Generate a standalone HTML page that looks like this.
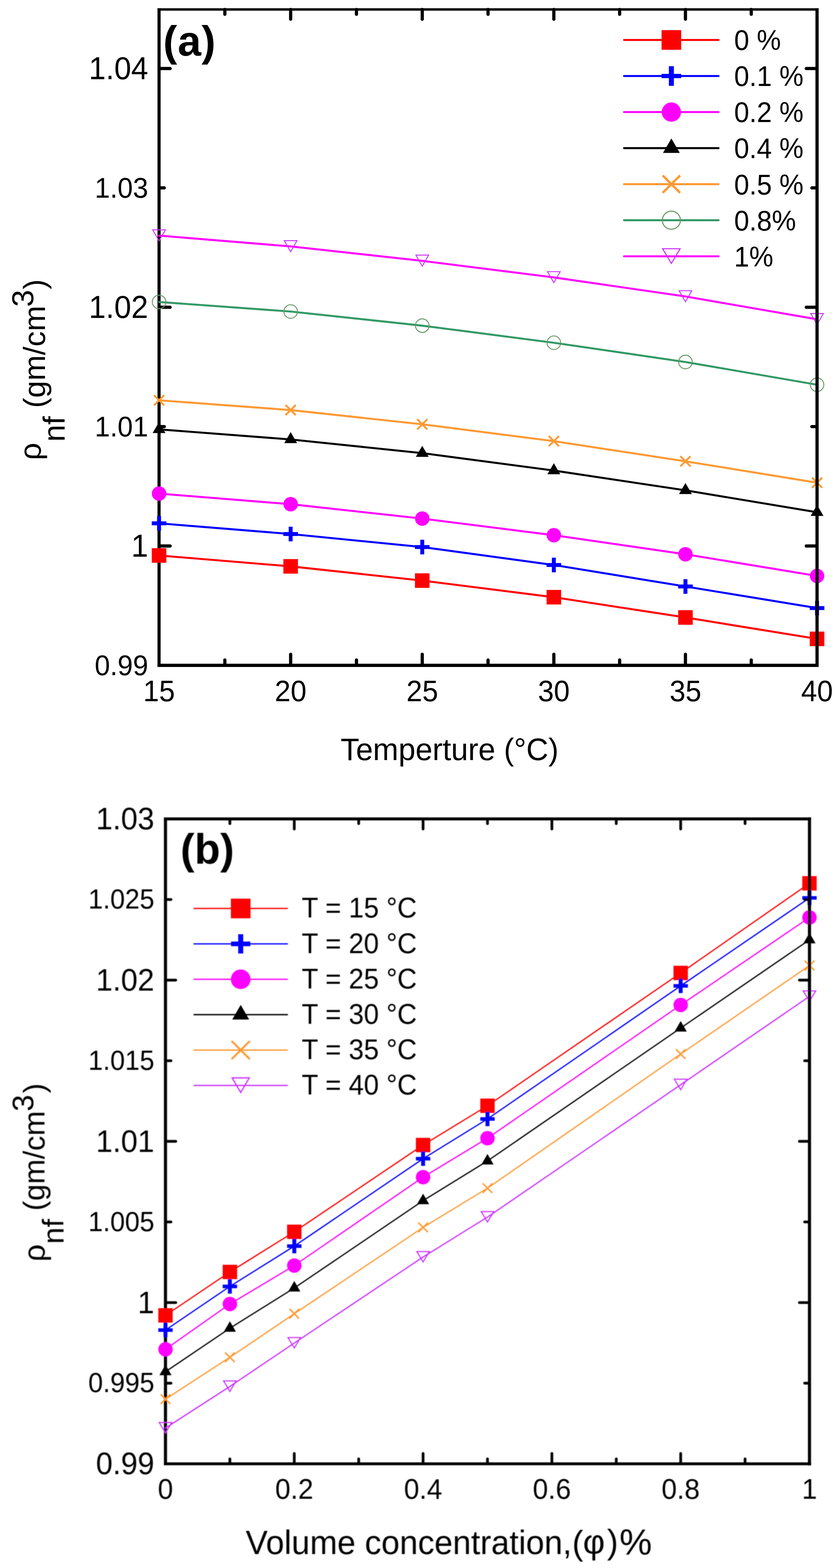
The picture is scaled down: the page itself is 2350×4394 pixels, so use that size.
<!DOCTYPE html><html><head><meta charset="utf-8"><title>Density of nanofluid vs temperature and concentration</title>
<style>html,body{margin:0;padding:0;background:#fff;}svg{display:block;}text{font-family:"Liberation Sans", Arial, "DejaVu Sans", sans-serif;fill:#000;}</style></head><body>
<svg width="2350" height="4394" viewBox="0 0 2350 4394">
<rect x="0" y="0" width="2350" height="4394" fill="#fff"/>
<rect x="441.15" y="23" width="8.7" height="1846.05" fill="#000"/>
<rect x="441.15" y="1859.95" width="1851.85" height="9.1" fill="#000"/>
<line x1="629.8" y1="1864.5" x2="629.8" y2="1849.5" stroke="#000" stroke-width="9" stroke-linecap="round"/>
<line x1="814.1" y1="1864.5" x2="814.1" y2="1833.5" stroke="#000" stroke-width="9" stroke-linecap="round"/>
<line x1="998.4" y1="1864.5" x2="998.4" y2="1849.5" stroke="#000" stroke-width="9" stroke-linecap="round"/>
<line x1="1182.7" y1="1864.5" x2="1182.7" y2="1833.5" stroke="#000" stroke-width="9" stroke-linecap="round"/>
<line x1="1367" y1="1864.5" x2="1367" y2="1849.5" stroke="#000" stroke-width="9" stroke-linecap="round"/>
<line x1="1551.3" y1="1864.5" x2="1551.3" y2="1833.5" stroke="#000" stroke-width="9" stroke-linecap="round"/>
<line x1="1735.6" y1="1864.5" x2="1735.6" y2="1849.5" stroke="#000" stroke-width="9" stroke-linecap="round"/>
<line x1="1919.9" y1="1864.5" x2="1919.9" y2="1833.5" stroke="#000" stroke-width="9" stroke-linecap="round"/>
<line x1="2104.2" y1="1864.5" x2="2104.2" y2="1849.5" stroke="#000" stroke-width="9" stroke-linecap="round"/>
<line x1="445.5" y1="192.1" x2="476.5" y2="192.1" stroke="#000" stroke-width="9" stroke-linecap="round"/>
<line x1="445.5" y1="526.58" x2="460.2" y2="526.58" stroke="#000" stroke-width="9" stroke-linecap="round"/>
<line x1="445.5" y1="861.06" x2="476.5" y2="861.06" stroke="#000" stroke-width="9" stroke-linecap="round"/>
<line x1="445.5" y1="1195.54" x2="460.2" y2="1195.54" stroke="#000" stroke-width="9" stroke-linecap="round"/>
<line x1="445.5" y1="1530.02" x2="476.5" y2="1530.02" stroke="#000" stroke-width="9" stroke-linecap="round"/>
<polyline points="445.5,1556.6 814.1,1587.1 1182.7,1627 1551.3,1673.5 1919.9,1730.3 2288.5,1790.3" fill="none" stroke="#FF0000" stroke-width="5.6" stroke-linejoin="round" stroke-linecap="round"/>
<polyline points="445.5,1466.5 814.1,1496.5 1182.7,1533 1551.3,1583.3 1919.9,1643.5 2288.5,1704" fill="none" stroke="#0000FF" stroke-width="5.6" stroke-linejoin="round" stroke-linecap="round"/>
<polyline points="445.5,1383.2 814.1,1412.9 1182.7,1453.2 1551.3,1499.8 1919.9,1553.2 2288.5,1614" fill="none" stroke="#FF00FF" stroke-width="5.6" stroke-linejoin="round" stroke-linecap="round"/>
<polyline points="445.5,1203.2 814.1,1231.5 1182.7,1269.8 1551.3,1318.6 1919.9,1374.1 2288.5,1435.5" fill="none" stroke="#000000" stroke-width="5.6" stroke-linejoin="round" stroke-linecap="round"/>
<polyline points="445.5,1121.7 814.1,1149.1 1182.7,1189 1551.3,1236.2 1919.9,1292.7 2288.5,1352.7" fill="none" stroke="#FF9933" stroke-width="5.6" stroke-linejoin="round" stroke-linecap="round"/>
<polyline points="445.5,846.2 814.1,873 1182.7,912.6 1551.3,960.5 1919.9,1014.4 2288.5,1078.1" fill="none" stroke="#339966" stroke-width="5.6" stroke-linejoin="round" stroke-linecap="round"/>
<polyline points="445.5,660.2 814.1,690.5 1182.7,731 1551.3,777.4 1919.9,830.8 2288.5,894.7" fill="none" stroke="#FF00FF" stroke-width="5.6" stroke-linejoin="round" stroke-linecap="round"/>
<rect x="425.1" y="1536.2" width="40.8" height="40.8" fill="#FF0000"/>
<rect x="425" y="1461" width="41" height="11" fill="#0000FF"/>
<rect x="440" y="1446" width="11" height="41" fill="#0000FF"/>
<circle cx="445.5" cy="1383.2" r="20.3" fill="#FF00FF"/>
<polygon points="445.5,1182.53 427.5,1213.53 463.5,1213.53" fill="#000000"/>
<path d="M431.2 1107.4L459.8 1136M431.2 1136L459.8 1107.4" stroke="#FF9933" stroke-width="5.2" stroke-linecap="butt" fill="none"/>
<circle cx="445.5" cy="846.2" r="19" fill="none" stroke="#669966" stroke-width="2.6"/>
<polygon points="427.71,644.1 463.29,644.1 445.5,675" fill="none" stroke="#CC33FF" stroke-width="2.6" stroke-linejoin="miter" stroke-miterlimit="10"/>
<rect x="793.7" y="1566.7" width="40.8" height="40.8" fill="#FF0000"/>
<rect x="793.6" y="1491" width="41" height="11" fill="#0000FF"/>
<rect x="808.6" y="1476" width="11" height="41" fill="#0000FF"/>
<circle cx="814.1" cy="1412.9" r="20.3" fill="#FF00FF"/>
<polygon points="814.1,1210.83 796.1,1241.83 832.1,1241.83" fill="#000000"/>
<path d="M799.8 1134.8L828.4 1163.4M799.8 1163.4L828.4 1134.8" stroke="#FF9933" stroke-width="5.2" stroke-linecap="butt" fill="none"/>
<circle cx="814.1" cy="873" r="19" fill="none" stroke="#669966" stroke-width="2.6"/>
<polygon points="796.31,674.4 831.89,674.4 814.1,705.3" fill="none" stroke="#CC33FF" stroke-width="2.6" stroke-linejoin="miter" stroke-miterlimit="10"/>
<rect x="1162.3" y="1606.6" width="40.8" height="40.8" fill="#FF0000"/>
<rect x="1162.2" y="1527.5" width="41" height="11" fill="#0000FF"/>
<rect x="1177.2" y="1512.5" width="11" height="41" fill="#0000FF"/>
<circle cx="1182.7" cy="1453.2" r="20.3" fill="#FF00FF"/>
<polygon points="1182.7,1249.13 1164.7,1280.13 1200.7,1280.13" fill="#000000"/>
<path d="M1168.4 1174.7L1197 1203.3M1168.4 1203.3L1197 1174.7" stroke="#FF9933" stroke-width="5.2" stroke-linecap="butt" fill="none"/>
<circle cx="1182.7" cy="912.6" r="19" fill="none" stroke="#669966" stroke-width="2.6"/>
<polygon points="1164.91,714.9 1200.49,714.9 1182.7,745.8" fill="none" stroke="#CC33FF" stroke-width="2.6" stroke-linejoin="miter" stroke-miterlimit="10"/>
<rect x="1530.9" y="1653.1" width="40.8" height="40.8" fill="#FF0000"/>
<rect x="1530.8" y="1577.8" width="41" height="11" fill="#0000FF"/>
<rect x="1545.8" y="1562.8" width="11" height="41" fill="#0000FF"/>
<circle cx="1551.3" cy="1499.8" r="20.3" fill="#FF00FF"/>
<polygon points="1551.3,1297.93 1533.3,1328.93 1569.3,1328.93" fill="#000000"/>
<path d="M1537 1221.9L1565.6 1250.5M1537 1250.5L1565.6 1221.9" stroke="#FF9933" stroke-width="5.2" stroke-linecap="butt" fill="none"/>
<circle cx="1551.3" cy="960.5" r="19" fill="none" stroke="#669966" stroke-width="2.6"/>
<polygon points="1533.51,761.3 1569.09,761.3 1551.3,792.2" fill="none" stroke="#CC33FF" stroke-width="2.6" stroke-linejoin="miter" stroke-miterlimit="10"/>
<rect x="1899.5" y="1709.9" width="40.8" height="40.8" fill="#FF0000"/>
<rect x="1899.4" y="1638" width="41" height="11" fill="#0000FF"/>
<rect x="1914.4" y="1623" width="11" height="41" fill="#0000FF"/>
<circle cx="1919.9" cy="1553.2" r="20.3" fill="#FF00FF"/>
<polygon points="1919.9,1353.43 1901.9,1384.43 1937.9,1384.43" fill="#000000"/>
<path d="M1905.6 1278.4L1934.2 1307M1905.6 1307L1934.2 1278.4" stroke="#FF9933" stroke-width="5.2" stroke-linecap="butt" fill="none"/>
<circle cx="1919.9" cy="1014.4" r="19" fill="none" stroke="#669966" stroke-width="2.6"/>
<polygon points="1902.11,814.7 1937.69,814.7 1919.9,845.6" fill="none" stroke="#CC33FF" stroke-width="2.6" stroke-linejoin="miter" stroke-miterlimit="10"/>
<rect x="2268.1" y="1769.9" width="40.8" height="40.8" fill="#FF0000"/>
<rect x="2268" y="1698.5" width="41" height="11" fill="#0000FF"/>
<rect x="2283" y="1683.5" width="11" height="41" fill="#0000FF"/>
<circle cx="2288.5" cy="1614" r="20.3" fill="#FF00FF"/>
<polygon points="2288.5,1414.83 2270.5,1445.83 2306.5,1445.83" fill="#000000"/>
<path d="M2274.2 1338.4L2302.8 1367M2274.2 1367L2302.8 1338.4" stroke="#FF9933" stroke-width="5.2" stroke-linecap="butt" fill="none"/>
<circle cx="2288.5" cy="1078.1" r="19" fill="none" stroke="#669966" stroke-width="2.6"/>
<polygon points="2270.71,878.6 2306.29,878.6 2288.5,909.5" fill="none" stroke="#CC33FF" stroke-width="2.6" stroke-linejoin="miter" stroke-miterlimit="10"/>
<rect x="2284.05" y="23.15" width="8.9" height="1845.85" fill="#000"/>
<rect x="441.1" y="23.15" width="1851.85" height="6.7" fill="#000"/>
<line x1="629.8" y1="26.5" x2="629.8" y2="40.1" stroke="#000" stroke-width="9" stroke-linecap="round"/>
<line x1="814.1" y1="26.5" x2="814.1" y2="53.9" stroke="#000" stroke-width="9" stroke-linecap="round"/>
<line x1="998.4" y1="26.5" x2="998.4" y2="40.1" stroke="#000" stroke-width="9" stroke-linecap="round"/>
<line x1="1182.7" y1="26.5" x2="1182.7" y2="53.9" stroke="#000" stroke-width="9" stroke-linecap="round"/>
<line x1="1367" y1="26.5" x2="1367" y2="40.1" stroke="#000" stroke-width="9" stroke-linecap="round"/>
<line x1="1551.3" y1="26.5" x2="1551.3" y2="53.9" stroke="#000" stroke-width="9" stroke-linecap="round"/>
<line x1="1735.6" y1="26.5" x2="1735.6" y2="40.1" stroke="#000" stroke-width="9" stroke-linecap="round"/>
<line x1="1919.9" y1="26.5" x2="1919.9" y2="53.9" stroke="#000" stroke-width="9" stroke-linecap="round"/>
<line x1="2104.2" y1="26.5" x2="2104.2" y2="40.1" stroke="#000" stroke-width="9" stroke-linecap="round"/>
<line x1="2288.5" y1="192.1" x2="2258.3" y2="192.1" stroke="#000" stroke-width="9" stroke-linecap="round"/>
<line x1="2288.5" y1="526.58" x2="2274" y2="526.58" stroke="#000" stroke-width="9" stroke-linecap="round"/>
<line x1="2288.5" y1="861.06" x2="2258.3" y2="861.06" stroke="#000" stroke-width="9" stroke-linecap="round"/>
<line x1="2288.5" y1="1195.54" x2="2274" y2="1195.54" stroke="#000" stroke-width="9" stroke-linecap="round"/>
<line x1="2288.5" y1="1530.02" x2="2258.3" y2="1530.02" stroke="#000" stroke-width="9" stroke-linecap="round"/>
<text transform="translate(415 222.4) scale(1 1.04)" font-size="85.4" text-anchor="end" font-weight="normal" >1.04</text>
<text transform="translate(415 553.88) scale(1 1.04)" font-size="77" text-anchor="end" font-weight="normal" >1.03</text>
<text transform="translate(415 891.36) scale(1 1.04)" font-size="85.4" text-anchor="end" font-weight="normal" >1.02</text>
<text transform="translate(415 1222.84) scale(1 1.04)" font-size="77" text-anchor="end" font-weight="normal" >1.01</text>
<text transform="translate(415 1560.32) scale(1 1.04)" font-size="85.4" text-anchor="end" font-weight="normal" >1</text>
<text transform="translate(415 1891.8) scale(1 1.04)" font-size="77" text-anchor="end" font-weight="normal" >0.99</text>
<text transform="translate(445.5 1965) scale(1 1.04)" font-size="80" text-anchor="middle" font-weight="normal" >15</text>
<text transform="translate(814.1 1965) scale(1 1.04)" font-size="80" text-anchor="middle" font-weight="normal" >20</text>
<text transform="translate(1182.7 1965) scale(1 1.04)" font-size="80" text-anchor="middle" font-weight="normal" >25</text>
<text transform="translate(1551.3 1965) scale(1 1.04)" font-size="80" text-anchor="middle" font-weight="normal" >30</text>
<text transform="translate(1919.9 1965) scale(1 1.04)" font-size="80" text-anchor="middle" font-weight="normal" >35</text>
<text transform="translate(2288.5 1965) scale(1 1.04)" font-size="80" text-anchor="middle" font-weight="normal" >40</text>
<text transform="translate(954.1 2129.8) scale(1 1.02)" font-size="85.7" text-anchor="start" font-weight="normal" >Temperture (°C)</text>
<text transform="translate(114 1289.5) rotate(-90) scale(1 1)" font-size="86" text-anchor="start" >ρ</text>
<text transform="translate(181 1238) rotate(-90) scale(1 1)" font-size="86" text-anchor="start" >nf</text>
<text transform="translate(126 1143.3) rotate(-90) scale(1 1)" font-size="86" text-anchor="start" >(gm/cm</text>
<text transform="translate(92.5 860) rotate(-90) scale(1 1)" font-size="86" text-anchor="start" >3</text>
<text transform="translate(126 811) rotate(-90) scale(1 1)" font-size="86" text-anchor="start" >)</text>
<text transform="translate(457.1 156.4) scale(1 1)" font-size="118" text-anchor="start" font-weight="bold" letter-spacing="1.3">(a)</text>
<line x1="1748" y1="112" x2="2012.5" y2="112" stroke="#FF0000" stroke-width="5.6" stroke-linecap="round"/>
<rect x="1853" y="84.5" width="55" height="55" fill="#FF0000"/>
<text transform="translate(2056.3 140.4) scale(1 1.04)" font-size="76" text-anchor="start" font-weight="normal" >0 %</text>
<line x1="1748" y1="213.03" x2="2012.5" y2="213.03" stroke="#0000FF" stroke-width="5.6" stroke-linecap="round"/>
<rect x="1853" y="207.03" width="55" height="12" fill="#0000FF"/>
<rect x="1873.5" y="185.53" width="14" height="55" fill="#0000FF"/>
<text transform="translate(2056.3 241.43) scale(1 1.04)" font-size="76" text-anchor="start" font-weight="normal" >0.1 %</text>
<line x1="1748" y1="314.06" x2="2012.5" y2="314.06" stroke="#FF00FF" stroke-width="5.6" stroke-linecap="round"/>
<circle cx="1880.5" cy="314.06" r="27" fill="#FF00FF"/>
<text transform="translate(2056.3 342.46) scale(1 1.04)" font-size="76" text-anchor="start" font-weight="normal" >0.2 %</text>
<line x1="1748" y1="415.09" x2="2012.5" y2="415.09" stroke="#000000" stroke-width="5.6" stroke-linecap="round"/>
<polygon points="1880.5,388.02 1857,428.62 1904,428.62" fill="#000000"/>
<text transform="translate(2056.3 443.49) scale(1 1.04)" font-size="76" text-anchor="start" font-weight="normal" >0.4 %</text>
<line x1="1748" y1="516.12" x2="2012.5" y2="516.12" stroke="#FF9933" stroke-width="5.6" stroke-linecap="round"/>
<path d="M1856.2 491.82L1904.8 540.42M1856.2 540.42L1904.8 491.82" stroke="#FF9933" stroke-width="6.5" stroke-linecap="butt" fill="none"/>
<text transform="translate(2056.3 544.52) scale(1 1.04)" font-size="76" text-anchor="start" font-weight="normal" >0.5 %</text>
<line x1="1748" y1="617.15" x2="2012.5" y2="617.15" stroke="#339966" stroke-width="5.6" stroke-linecap="round"/>
<circle cx="1880.5" cy="617.15" r="25.3" fill="none" stroke="#669966" stroke-width="3"/>
<text transform="translate(2056.3 645.55) scale(1 1.04)" font-size="76" text-anchor="start" font-weight="normal" >0.8%</text>
<line x1="1748" y1="718.18" x2="2012.5" y2="718.18" stroke="#FF00FF" stroke-width="5.6" stroke-linecap="round"/>
<polygon points="1855.85,696.88 1905.15,696.88 1880.5,737.98" fill="none" stroke="#CC33FF" stroke-width="3" stroke-linejoin="miter" stroke-miterlimit="10"/>
<text transform="translate(2056.3 746.58) scale(1 1.04)" font-size="76" text-anchor="start" font-weight="normal" >1%</text>
<defs><filter id="bb" x="0" y="2150" width="2350" height="2244" filterUnits="userSpaceOnUse"><feGaussianBlur stdDeviation="0.9"/></filter></defs><g filter="url(#bb)">
<rect x="459.15" y="2291.3" width="8.7" height="1814.75" fill="#000"/>
<rect x="459.15" y="4097.95" width="1812.65" height="8.1" fill="#000"/>
<line x1="643.88" y1="4102" x2="643.88" y2="4088.2" stroke="#000" stroke-width="7.6" stroke-linecap="round"/>
<line x1="824.26" y1="4102" x2="824.26" y2="4073" stroke="#000" stroke-width="7.6" stroke-linecap="round"/>
<line x1="1004.64" y1="4102" x2="1004.64" y2="4088.2" stroke="#000" stroke-width="7.6" stroke-linecap="round"/>
<line x1="1185.02" y1="4102" x2="1185.02" y2="4073" stroke="#000" stroke-width="7.6" stroke-linecap="round"/>
<line x1="1365.4" y1="4102" x2="1365.4" y2="4088.2" stroke="#000" stroke-width="7.6" stroke-linecap="round"/>
<line x1="1545.78" y1="4102" x2="1545.78" y2="4073" stroke="#000" stroke-width="7.6" stroke-linecap="round"/>
<line x1="1726.16" y1="4102" x2="1726.16" y2="4088.2" stroke="#000" stroke-width="7.6" stroke-linecap="round"/>
<line x1="1906.54" y1="4102" x2="1906.54" y2="4073" stroke="#000" stroke-width="7.6" stroke-linecap="round"/>
<line x1="2086.92" y1="4102" x2="2086.92" y2="4088.2" stroke="#000" stroke-width="7.6" stroke-linecap="round"/>
<line x1="463.5" y1="2520.7" x2="478.8" y2="2520.7" stroke="#000" stroke-width="7.6" stroke-linecap="round"/>
<line x1="463.5" y1="2746.6" x2="492.2" y2="2746.6" stroke="#000" stroke-width="7.6" stroke-linecap="round"/>
<line x1="463.5" y1="2972.5" x2="478.8" y2="2972.5" stroke="#000" stroke-width="7.6" stroke-linecap="round"/>
<line x1="463.5" y1="3198.4" x2="492.2" y2="3198.4" stroke="#000" stroke-width="7.6" stroke-linecap="round"/>
<line x1="463.5" y1="3424.3" x2="478.8" y2="3424.3" stroke="#000" stroke-width="7.6" stroke-linecap="round"/>
<line x1="463.5" y1="3650.2" x2="492.2" y2="3650.2" stroke="#000" stroke-width="7.6" stroke-linecap="round"/>
<line x1="463.5" y1="3876.1" x2="478.8" y2="3876.1" stroke="#000" stroke-width="7.6" stroke-linecap="round"/>
<polyline points="463.5,3686.1 643.88,3564.4 824.26,3451.88 1185.02,3208.75 1365.4,3098.66 1906.54,2726.53 2267.3,2475.29" fill="none" stroke="#FF0000" stroke-width="3.4" stroke-linejoin="round" stroke-linecap="round"/>
<polyline points="463.5,3727.3 643.88,3604.92 824.26,3492 1185.02,3246.97 1365.4,3135.67 1906.54,2762.73 2267.3,2516.22" fill="none" stroke="#0000FF" stroke-width="3.4" stroke-linejoin="round" stroke-linecap="round"/>
<polyline points="463.5,3781.2 643.88,3654.23 824.26,3546.44 1185.02,3298.71 1365.4,3189.57 1906.54,2816.22 2267.3,2570.92" fill="none" stroke="#FF00FF" stroke-width="3.4" stroke-linejoin="round" stroke-linecap="round"/>
<polyline points="463.5,3844.01 643.88,3722.17 824.26,3609.38 1185.02,3364.62 1365.4,3253.32 1906.54,2880.92 2267.3,2633.6" fill="none" stroke="#000000" stroke-width="3.4" stroke-linejoin="round" stroke-linecap="round"/>
<polyline points="463.5,3920.73 643.88,3803.48 824.26,3681.51 1185.02,3439.59 1365.4,3329.64 1906.54,2953.72 2267.3,2705.73" fill="none" stroke="#FF9933" stroke-width="3.4" stroke-linejoin="round" stroke-linecap="round"/>
<polyline points="463.5,4001.77 643.88,3885.2 824.26,3763.64 1185.02,3522.53 1365.4,3410.68 1906.54,3039.77 2267.3,2792.04" fill="none" stroke="#CC33FF" stroke-width="3.4" stroke-linejoin="round" stroke-linecap="round"/>
<rect x="443.35" y="3665.95" width="40.3" height="40.3" fill="#FF0000"/>
<rect x="623.73" y="3544.25" width="40.3" height="40.3" fill="#FF0000"/>
<rect x="804.11" y="3431.73" width="40.3" height="40.3" fill="#FF0000"/>
<rect x="1164.87" y="3188.6" width="40.3" height="40.3" fill="#FF0000"/>
<rect x="1345.25" y="3078.51" width="40.3" height="40.3" fill="#FF0000"/>
<rect x="1886.39" y="2706.38" width="40.3" height="40.3" fill="#FF0000"/>
<rect x="2247.15" y="2455.14" width="40.3" height="40.3" fill="#FF0000"/>
<rect x="443.35" y="3722.3" width="40.3" height="10" fill="#0000FF"/>
<rect x="458" y="3707.15" width="11" height="40.3" fill="#0000FF"/>
<rect x="623.73" y="3599.92" width="40.3" height="10" fill="#0000FF"/>
<rect x="638.38" y="3584.77" width="11" height="40.3" fill="#0000FF"/>
<rect x="804.11" y="3487" width="40.3" height="10" fill="#0000FF"/>
<rect x="818.76" y="3471.85" width="11" height="40.3" fill="#0000FF"/>
<rect x="1164.87" y="3241.97" width="40.3" height="10" fill="#0000FF"/>
<rect x="1179.52" y="3226.82" width="11" height="40.3" fill="#0000FF"/>
<rect x="1345.25" y="3130.67" width="40.3" height="10" fill="#0000FF"/>
<rect x="1359.9" y="3115.52" width="11" height="40.3" fill="#0000FF"/>
<rect x="1886.39" y="2757.73" width="40.3" height="10" fill="#0000FF"/>
<rect x="1901.04" y="2742.58" width="11" height="40.3" fill="#0000FF"/>
<rect x="2247.15" y="2511.22" width="40.3" height="10" fill="#0000FF"/>
<rect x="2261.8" y="2496.07" width="11" height="40.3" fill="#0000FF"/>
<circle cx="463.5" cy="3781.2" r="20.25" fill="#FF00FF"/>
<circle cx="643.88" cy="3654.23" r="20.25" fill="#FF00FF"/>
<circle cx="824.26" cy="3546.44" r="20.25" fill="#FF00FF"/>
<circle cx="1185.02" cy="3298.71" r="20.25" fill="#FF00FF"/>
<circle cx="1365.4" cy="3189.57" r="20.25" fill="#FF00FF"/>
<circle cx="1906.54" cy="2816.22" r="20.25" fill="#FF00FF"/>
<circle cx="2267.3" cy="2570.92" r="20.25" fill="#FF00FF"/>
<polygon points="463.5,3824.34 446.5,3853.84 480.5,3853.84" fill="#000000"/>
<polygon points="643.88,3702.5 626.88,3732 660.88,3732" fill="#000000"/>
<polygon points="824.26,3589.71 807.26,3619.21 841.26,3619.21" fill="#000000"/>
<polygon points="1185.02,3344.96 1168.02,3374.46 1202.02,3374.46" fill="#000000"/>
<polygon points="1365.4,3233.65 1348.4,3263.15 1382.4,3263.15" fill="#000000"/>
<polygon points="1906.54,2861.25 1889.54,2890.75 1923.54,2890.75" fill="#000000"/>
<polygon points="2267.3,2613.93 2250.3,2643.43 2284.3,2643.43" fill="#000000"/>
<path d="M450 3907.23L477 3934.23M450 3934.23L477 3907.23" stroke="#FF9933" stroke-width="4" stroke-linecap="butt" fill="none"/>
<path d="M630.38 3789.98L657.38 3816.98M630.38 3816.98L657.38 3789.98" stroke="#FF9933" stroke-width="4" stroke-linecap="butt" fill="none"/>
<path d="M810.76 3668.01L837.76 3695.01M810.76 3695.01L837.76 3668.01" stroke="#FF9933" stroke-width="4" stroke-linecap="butt" fill="none"/>
<path d="M1171.52 3426.09L1198.52 3453.09M1171.52 3453.09L1198.52 3426.09" stroke="#FF9933" stroke-width="4" stroke-linecap="butt" fill="none"/>
<path d="M1351.9 3316.14L1378.9 3343.14M1351.9 3343.14L1378.9 3316.14" stroke="#FF9933" stroke-width="4" stroke-linecap="butt" fill="none"/>
<path d="M1893.04 2940.22L1920.04 2967.22M1893.04 2967.22L1920.04 2940.22" stroke="#FF9933" stroke-width="4" stroke-linecap="butt" fill="none"/>
<path d="M2253.8 2692.23L2280.8 2719.23M2253.8 2719.23L2280.8 2692.23" stroke="#FF9933" stroke-width="4" stroke-linecap="butt" fill="none"/>
<polygon points="445.9,3986.37 481.1,3986.37 463.5,4015.67" fill="none" stroke="#CC33FF" stroke-width="3" stroke-linejoin="miter" stroke-miterlimit="10"/>
<polygon points="626.28,3869.8 661.48,3869.8 643.88,3899.1" fill="none" stroke="#CC33FF" stroke-width="3" stroke-linejoin="miter" stroke-miterlimit="10"/>
<polygon points="806.66,3748.24 841.86,3748.24 824.26,3777.54" fill="none" stroke="#CC33FF" stroke-width="3" stroke-linejoin="miter" stroke-miterlimit="10"/>
<polygon points="1167.42,3507.13 1202.62,3507.13 1185.02,3536.43" fill="none" stroke="#CC33FF" stroke-width="3" stroke-linejoin="miter" stroke-miterlimit="10"/>
<polygon points="1347.8,3395.28 1383,3395.28 1365.4,3424.58" fill="none" stroke="#CC33FF" stroke-width="3" stroke-linejoin="miter" stroke-miterlimit="10"/>
<polygon points="1888.94,3024.37 1924.14,3024.37 1906.54,3053.67" fill="none" stroke="#CC33FF" stroke-width="3" stroke-linejoin="miter" stroke-miterlimit="10"/>
<polygon points="2249.7,2776.64 2284.9,2776.64 2267.3,2805.94" fill="none" stroke="#CC33FF" stroke-width="3" stroke-linejoin="miter" stroke-miterlimit="10"/>
<rect x="2262.95" y="2290.6" width="8.7" height="1815.9" fill="#000"/>
<rect x="459.1" y="2290.6" width="1812.55" height="8.4" fill="#000"/>
<line x1="643.88" y1="2294.8" x2="643.88" y2="2307.9" stroke="#000" stroke-width="7.6" stroke-linecap="round"/>
<line x1="824.26" y1="2294.8" x2="824.26" y2="2323.1" stroke="#000" stroke-width="7.6" stroke-linecap="round"/>
<line x1="1004.64" y1="2294.8" x2="1004.64" y2="2307.9" stroke="#000" stroke-width="7.6" stroke-linecap="round"/>
<line x1="1185.02" y1="2294.8" x2="1185.02" y2="2323.1" stroke="#000" stroke-width="7.6" stroke-linecap="round"/>
<line x1="1365.4" y1="2294.8" x2="1365.4" y2="2307.9" stroke="#000" stroke-width="7.6" stroke-linecap="round"/>
<line x1="1545.78" y1="2294.8" x2="1545.78" y2="2323.1" stroke="#000" stroke-width="7.6" stroke-linecap="round"/>
<line x1="1726.16" y1="2294.8" x2="1726.16" y2="2307.9" stroke="#000" stroke-width="7.6" stroke-linecap="round"/>
<line x1="1906.54" y1="2294.8" x2="1906.54" y2="2323.1" stroke="#000" stroke-width="7.6" stroke-linecap="round"/>
<line x1="2086.92" y1="2294.8" x2="2086.92" y2="2307.9" stroke="#000" stroke-width="7.6" stroke-linecap="round"/>
<line x1="2267.3" y1="2520.7" x2="2253.8" y2="2520.7" stroke="#000" stroke-width="7.6" stroke-linecap="round"/>
<line x1="2267.3" y1="2746.6" x2="2239.1" y2="2746.6" stroke="#000" stroke-width="7.6" stroke-linecap="round"/>
<line x1="2267.3" y1="2972.5" x2="2253.8" y2="2972.5" stroke="#000" stroke-width="7.6" stroke-linecap="round"/>
<line x1="2267.3" y1="3198.4" x2="2239.1" y2="3198.4" stroke="#000" stroke-width="7.6" stroke-linecap="round"/>
<line x1="2267.3" y1="3424.3" x2="2253.8" y2="3424.3" stroke="#000" stroke-width="7.6" stroke-linecap="round"/>
<line x1="2267.3" y1="3650.2" x2="2239.1" y2="3650.2" stroke="#000" stroke-width="7.6" stroke-linecap="round"/>
<line x1="2267.3" y1="3876.1" x2="2253.8" y2="3876.1" stroke="#000" stroke-width="7.6" stroke-linecap="round"/>
<text transform="translate(432.3 2324.2) scale(1 1.04)" font-size="84" text-anchor="end" font-weight="normal" >1.03</text>
<text transform="translate(432.3 2545.9) scale(1 1.04)" font-size="74" text-anchor="end" font-weight="normal" >1.025</text>
<text transform="translate(432.3 2776) scale(1 1.04)" font-size="84" text-anchor="end" font-weight="normal" >1.02</text>
<text transform="translate(432.3 2997.7) scale(1 1.04)" font-size="74" text-anchor="end" font-weight="normal" >1.015</text>
<text transform="translate(432.3 3227.8) scale(1 1.04)" font-size="84" text-anchor="end" font-weight="normal" >1.01</text>
<text transform="translate(432.3 3449.5) scale(1 1.04)" font-size="74" text-anchor="end" font-weight="normal" >1.005</text>
<text transform="translate(432.3 3679.6) scale(1 1.04)" font-size="84" text-anchor="end" font-weight="normal" >1</text>
<text transform="translate(432.3 3901.3) scale(1 1.04)" font-size="74" text-anchor="end" font-weight="normal" >0.995</text>
<text transform="translate(432.3 4131.4) scale(1 1.04)" font-size="84" text-anchor="end" font-weight="normal" >0.99</text>
<text transform="translate(463.5 4199.5) scale(1 1.04)" font-size="77" text-anchor="middle" font-weight="normal" >0</text>
<text transform="translate(824.26 4199.5) scale(1 1.04)" font-size="77" text-anchor="middle" font-weight="normal" >0.2</text>
<text transform="translate(1185.02 4199.5) scale(1 1.04)" font-size="77" text-anchor="middle" font-weight="normal" >0.4</text>
<text transform="translate(1545.78 4199.5) scale(1 1.04)" font-size="77" text-anchor="middle" font-weight="normal" >0.6</text>
<text transform="translate(1906.54 4199.5) scale(1 1.04)" font-size="77" text-anchor="middle" font-weight="normal" >0.8</text>
<text transform="translate(2267.3 4199.5) scale(1 1.04)" font-size="77" text-anchor="middle" font-weight="normal" >1</text>
<text transform="translate(688.3 4355) scale(1 1.03)" font-size="92.3" text-anchor="start" font-weight="normal" >Volume concentration,</text>
<text transform="translate(1602.5 4356.2) scale(1 1)" font-size="94" text-anchor="start" font-weight="normal" >(</text>
<text transform="translate(1632.7 4353) scale(1 1)" font-size="95" text-anchor="start" font-weight="normal" >φ</text>
<text transform="translate(1700.2 4353.3) scale(1 1)" font-size="94" text-anchor="start" font-weight="normal" >)</text>
<text transform="translate(1734.9 4356.2) scale(1 1)" font-size="102.5" text-anchor="start" font-weight="normal" >%</text>
<text transform="translate(124.5 3535.5) rotate(-90) scale(1 1)" font-size="86" text-anchor="start" >ρ</text>
<text transform="translate(178.3 3486) rotate(-90) scale(1 1)" font-size="84" text-anchor="start" >nf</text>
<text transform="translate(124.5 3393) rotate(-90) scale(1 1)" font-size="84" text-anchor="start" >(gm/cm</text>
<text transform="translate(92.5 3114.5) rotate(-90) scale(1 1)" font-size="84" text-anchor="start" >3</text>
<text transform="translate(124.5 3063.5) rotate(-90) scale(1 1)" font-size="84" text-anchor="start" >)</text>
<text transform="translate(505.4 2419.7) scale(1 1)" font-size="118" text-anchor="start" font-weight="bold" >(b)</text>
<line x1="543.5" y1="2545.8" x2="805" y2="2545.8" stroke="#FF0000" stroke-width="3.6" stroke-linecap="round"/>
<rect x="646.7" y="2518.3" width="55" height="55" fill="#FF0000"/>
<text transform="translate(845 2571.4) scale(1 1.04)" font-size="76" text-anchor="start" font-weight="normal" >T = 15 °C</text>
<line x1="543.5" y1="2645" x2="805" y2="2645" stroke="#0000FF" stroke-width="3.6" stroke-linecap="round"/>
<rect x="647.2" y="2638.5" width="54" height="13" fill="#0000FF"/>
<rect x="667.2" y="2618" width="14" height="54" fill="#0000FF"/>
<text transform="translate(845 2670.6) scale(1 1.04)" font-size="76" text-anchor="start" font-weight="normal" >T = 20 °C</text>
<line x1="543.5" y1="2744.2" x2="805" y2="2744.2" stroke="#FF00FF" stroke-width="3.6" stroke-linecap="round"/>
<circle cx="674.2" cy="2744.2" r="27.5" fill="#FF00FF"/>
<text transform="translate(845 2769.8) scale(1 1.04)" font-size="76" text-anchor="start" font-weight="normal" >T = 25 °C</text>
<line x1="543.5" y1="2843.4" x2="805" y2="2843.4" stroke="#000000" stroke-width="3.6" stroke-linecap="round"/>
<polygon points="674.2,2816.07 650.45,2857.07 697.95,2857.07" fill="#000000"/>
<text transform="translate(845 2869) scale(1 1.04)" font-size="76" text-anchor="start" font-weight="normal" >T = 30 °C</text>
<line x1="543.5" y1="2942.6" x2="805" y2="2942.6" stroke="#FF9933" stroke-width="3.6" stroke-linecap="round"/>
<path d="M650.2 2918.6L698.2 2966.6M650.2 2966.6L698.2 2918.6" stroke="#FF9933" stroke-width="5.5" stroke-linecap="round" fill="none"/>
<text transform="translate(845 2968.2) scale(1 1.04)" font-size="76" text-anchor="start" font-weight="normal" >T = 35 °C</text>
<line x1="543.5" y1="3041.8" x2="805" y2="3041.8" stroke="#CC33FF" stroke-width="3.6" stroke-linecap="round"/>
<polygon points="650.09,3020.5 698.31,3020.5 674.2,3061.4" fill="none" stroke="#CC33FF" stroke-width="3.4" stroke-linejoin="miter" stroke-miterlimit="10"/>
<text transform="translate(845 3067.4) scale(1 1.04)" font-size="76" text-anchor="start" font-weight="normal" >T = 40 °C</text>
</g>
</svg></body></html>
